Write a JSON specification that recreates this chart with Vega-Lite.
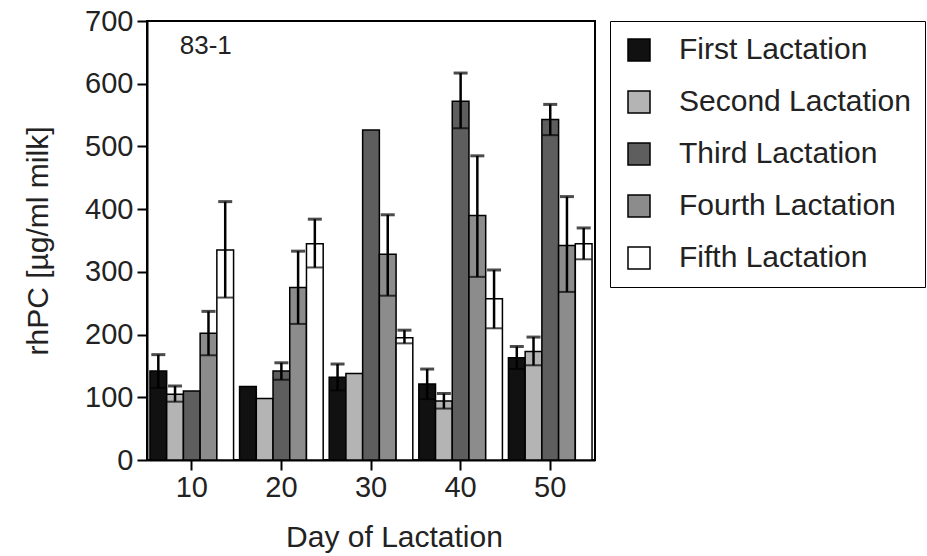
{
  "$schema": "https://vega.github.io/schema/vega-lite/v6.json",
  "width": 448,
  "height": 439,
  "autosize": {"type": "none"},
  "padding": {"left": 147, "top": 21, "right": 332, "bottom": 96},
  "background": "white",
  "config": {
    "font": "Liberation Sans",
    "view": {"stroke": "black", "strokeWidth": 2},
    "axis": {
      "grid": false,
      "domainColor": "black",
      "domainWidth": 2,
      "tickColor": "black",
      "tickWidth": 2,
      "tickSize": 10,
      "labelFont": "Liberation Sans",
      "labelFontSize": 29,
      "labelColor": "#222",
      "titleFont": "Liberation Sans",
      "titleFontSize": 30,
      "titleFontWeight": "normal",
      "titleColor": "#222"
    }
  },
  "data": {
    "values": [
      {"day": 10, "lact": "First Lactation", "mean": 142, "lo": 115, "hi": 168},
      {"day": 10, "lact": "Second Lactation", "mean": 105, "lo": 93, "hi": 118},
      {"day": 10, "lact": "Third Lactation", "mean": 110, "lo": null, "hi": null},
      {"day": 10, "lact": "Fourth Lactation", "mean": 202, "lo": 167, "hi": 237},
      {"day": 10, "lact": "Fifth Lactation", "mean": 335, "lo": 259, "hi": 412},
      {"day": 20, "lact": "First Lactation", "mean": 117, "lo": null, "hi": null},
      {"day": 20, "lact": "Second Lactation", "mean": 98, "lo": null, "hi": null},
      {"day": 20, "lact": "Third Lactation", "mean": 142, "lo": 128, "hi": 155},
      {"day": 20, "lact": "Fourth Lactation", "mean": 275, "lo": 217, "hi": 333},
      {"day": 20, "lact": "Fifth Lactation", "mean": 345, "lo": 307, "hi": 384},
      {"day": 30, "lact": "First Lactation", "mean": 132, "lo": 111, "hi": 153},
      {"day": 30, "lact": "Second Lactation", "mean": 138, "lo": null, "hi": null},
      {"day": 30, "lact": "Third Lactation", "mean": 526, "lo": null, "hi": null},
      {"day": 30, "lact": "Fourth Lactation", "mean": 328, "lo": 262, "hi": 391},
      {"day": 30, "lact": "Fifth Lactation", "mean": 195, "lo": 186, "hi": 207},
      {"day": 40, "lact": "First Lactation", "mean": 121, "lo": 97, "hi": 145},
      {"day": 40, "lact": "Second Lactation", "mean": 94, "lo": 82, "hi": 106},
      {"day": 40, "lact": "Third Lactation", "mean": 572, "lo": 529, "hi": 617},
      {"day": 40, "lact": "Fourth Lactation", "mean": 390, "lo": 292, "hi": 485},
      {"day": 40, "lact": "Fifth Lactation", "mean": 257, "lo": 210, "hi": 303},
      {"day": 50, "lact": "First Lactation", "mean": 163, "lo": 145, "hi": 181},
      {"day": 50, "lact": "Second Lactation", "mean": 173, "lo": 151, "hi": 196},
      {"day": 50, "lact": "Third Lactation", "mean": 543, "lo": 518, "hi": 567},
      {"day": 50, "lact": "Fourth Lactation", "mean": 342, "lo": 268, "hi": 420},
      {"day": 50, "lact": "Fifth Lactation", "mean": 345, "lo": 320, "hi": 370}
    ]
  },
  "layer": [
    {
      "mark": {"type": "bar", "stroke": "black", "strokeWidth": 1.5},
      "encoding": {
        "x": {
          "field": "day", "type": "ordinal",
          "scale": {"paddingInner": 0.067, "paddingOuter": 0.033},
          "axis": {"title": "Day of Lactation", "labelAngle": 0, "labelPadding": 3, "titlePadding": 20, "titleX": 247}
        },
        "xOffset": {
          "field": "lact", "type": "nominal",
          "sort": ["First Lactation", "Second Lactation", "Third Lactation", "Fourth Lactation", "Fifth Lactation"],
          "scale": {"paddingInner": 0, "paddingOuter": 0}
        },
        "y": {
          "field": "mean", "type": "quantitative",
          "scale": {"domain": [0, 700], "nice": false},
          "axis": {"title": "rhPC [µg/ml milk]", "values": [0, 100, 200, 300, 400, 500, 600, 700], "labelPadding": 4, "titlePadding": 31}
        },
        "fill": {
          "field": "lact", "type": "nominal",
          "scale": {
            "domain": ["First Lactation", "Second Lactation", "Third Lactation", "Fourth Lactation", "Fifth Lactation"],
            "range": ["#111111", "#b4b4b4", "#5e5e5e", "#8c8c8c", "#ffffff"]
          },
          "legend": {
            "title": null,
            "orient": "right",
            "offset": 15,
            "padding": 14,
            "rowPadding": 22,
            "symbolType": "square",
            "symbolSize": 484,
            "symbolStrokeColor": "black",
            "symbolStrokeWidth": 1.5,
            "labelFont": "Liberation Sans",
            "labelFontSize": 30,
            "labelColor": "#222",
            "labelOffset": 25,
            "labelLimit": 400,
            "strokeColor": "black",
            "fillColor": "white"
          }
        }
      }
    },
    {
      "mark": {"type": "rule", "color": "black", "strokeWidth": 2.5},
      "encoding": {
        "x": {"field": "day", "type": "ordinal", "title": "Day of Lactation"},
        "xOffset": {"field": "lact", "type": "nominal", "sort": ["First Lactation", "Second Lactation", "Third Lactation", "Fourth Lactation", "Fifth Lactation"]},
        "y": {"field": "lo", "type": "quantitative", "title": "rhPC [µg/ml milk]"},
        "y2": {"field": "hi"}
      }
    },
    {
      "mark": {"type": "tick", "color": "black", "thickness": 3, "size": 14},
      "encoding": {
        "x": {"field": "day", "type": "ordinal", "title": "Day of Lactation"},
        "xOffset": {"field": "lact", "type": "nominal", "sort": ["First Lactation", "Second Lactation", "Third Lactation", "Fourth Lactation", "Fifth Lactation"]},
        "y": {"field": "hi", "type": "quantitative", "title": "rhPC [µg/ml milk]"}
      }
    },
    {
      "mark": {"type": "tick", "color": "black", "thickness": 2, "size": 16},
      "encoding": {
        "x": {"field": "day", "type": "ordinal", "title": "Day of Lactation"},
        "xOffset": {"field": "lact", "type": "nominal", "sort": ["First Lactation", "Second Lactation", "Third Lactation", "Fourth Lactation", "Fifth Lactation"]},
        "y": {"field": "lo", "type": "quantitative", "title": "rhPC [µg/ml milk]"}
      }
    },
    {
      "data": {"values": [{"label": "83-1"}]},
      "mark": {"type": "text", "align": "left", "baseline": "middle", "fontSize": 26, "color": "#222", "font": "Liberation Sans", "dx": -12},
      "encoding": {
        "x": {"datum": 10, "type": "ordinal", "title": "Day of Lactation"},
        "y": {"datum": 660, "type": "quantitative", "title": "rhPC [µg/ml milk]"},
        "text": {"field": "label", "type": "nominal"}
      }
    }
  ]
}
